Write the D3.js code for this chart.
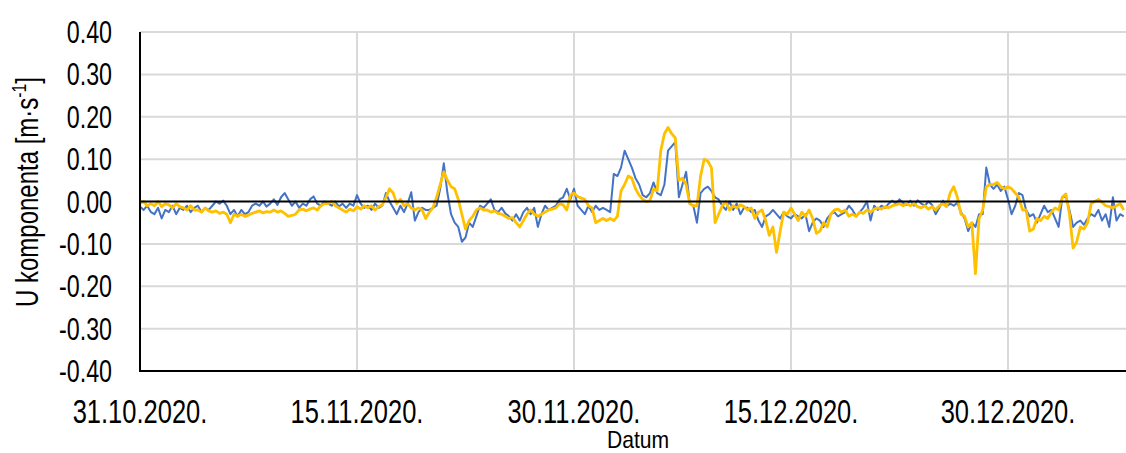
<!DOCTYPE html>
<html>
<head>
<meta charset="utf-8">
<script src="https://cdn.jsdelivr.net/npm/d3@7"></script>
<style>
  html, body { margin: 0; padding: 0; background: #fff; }
  svg { display: block; font-family: "Liberation Sans", Arial, sans-serif; }
</style>
</head>
<body>
<div id="chart"></div>
<script>
// U component of current velocity, two series, 6-hourly samples from 31.10.2020.
const START = new Date(2020, 9, 31);
const STEP_HOURS = 6;

const Y_TICKS = [0.4, 0.3, 0.2, 0.1, 0, -0.1, -0.2, -0.3, -0.4];
const X_TICKS = ["2020-10-31", "2020-11-15", "2020-11-30", "2020-12-15", "2020-12-30"];

// blue series (4 values per day)
const BLUE = [
  -0.012,-0.02,-0.01,-0.025,   -0.03,-0.015,-0.04,-0.02,    -0.025,-0.01,-0.03,-0.015,   -0.02,-0.01,-0.025,-0.015,
  -0.01,-0.025,-0.015,-0.02,   -0.01,0,-0.005,0.002,        -0.01,-0.03,-0.02,-0.035,    -0.02,-0.03,-0.025,-0.01,
  -0.005,-0.01,0,-0.012,       -0.005,0.005,-0.008,0.01,    0.02,0.005,-0.01,0,          -0.015,-0.005,-0.01,0.005,
  0.012,-0.005,-0.01,0,        -0.005,-0.01,0,-0.012,       -0.005,-0.015,-0.005,-0.01,  0.015,-0.005,-0.015,-0.01,
  -0.02,-0.005,-0.015,-0.01,   0.02,0,-0.015,-0.03,         -0.01,-0.025,-0.005,0.022,   -0.045,-0.025,-0.015,-0.02,
  -0.02,-0.015,-0.01,0.03,     0.09,0.02,-0.03,-0.05,       -0.06,-0.095,-0.085,-0.05,   -0.06,-0.035,-0.01,-0.015,
  -0.005,0.005,-0.02,-0.025,   -0.015,-0.028,-0.035,-0.045, -0.03,-0.045,-0.025,-0.015,  -0.03,-0.015,-0.06,-0.03,
  -0.01,-0.02,-0.015,-0.01,    0.005,0.01,0.03,0.005,       0.03,-0.01,-0.02,-0.03,      -0.01,-0.025,-0.01,-0.02,
  -0.015,-0.02,-0.025,0.065,   0.06,0.08,0.12,0.1,          0.08,0.055,0.04,0.015,       0.01,0.02,0.045,0.02,
  0.015,0.04,0.12,0.13,        0.14,0.01,0.04,0.07,         -0.005,-0.01,-0.05,0.02,     0.03,0.035,0.025,0.01,
  0.005,-0.01,-0.02,0,         -0.02,-0.005,-0.03,-0.015,   -0.015,-0.025,-0.02,-0.045,  -0.06,-0.035,-0.03,-0.02,
  -0.03,-0.04,-0.025,-0.035,   -0.04,-0.03,-0.035,-0.04,    -0.03,-0.07,-0.05,-0.04,     -0.045,-0.06,-0.04,-0.03,
  -0.025,-0.035,-0.03,-0.025,  -0.01,-0.02,-0.035,-0.025,   -0.015,0,-0.045,-0.01,       -0.02,-0.01,-0.015,-0.005,
  0.002,-0.005,0.005,-0.003,   -0.008,0.002,-0.01,0.003,    -0.005,-0.01,0,-0.008,       -0.03,-0.015,0.002,-0.012,
  -0.005,-0.01,-0.003,-0.025,  -0.04,-0.07,-0.05,-0.06,     -0.03,-0.03,0.08,0.04,       0.03,0.04,0.025,0.035,
  0.005,-0.03,-0.01,0.02,      0.015,-0.02,-0.035,-0.03,    -0.05,-0.03,-0.01,-0.025,    -0.02,-0.04,-0.06,0.01,
  0.012,-0.02,-0.06,-0.05,     -0.045,-0.055,-0.04,-0.03,   -0.035,-0.02,-0.045,-0.03,   -0.06,0.01,-0.045,-0.03,
  -0.035
];

// yellow series (4 values per day)
const YELLOW = [
  -0.005,0,-0.01,-0.005,       -0.01,0,-0.012,-0.005,       -0.008,-0.015,-0.005,-0.012, -0.015,-0.02,-0.01,-0.02,
  -0.02,-0.025,-0.015,-0.022,  -0.025,-0.022,-0.028,-0.025, -0.03,-0.05,-0.03,-0.035,    -0.03,-0.035,-0.032,-0.028,
  -0.025,-0.022,-0.027,-0.024, -0.025,-0.02,-0.025,-0.022,  -0.028,-0.035,-0.033,-0.03,  -0.02,-0.018,-0.022,-0.018,
  -0.015,-0.02,-0.01,-0.005,   -0.005,0,-0.01,-0.015,       -0.02,-0.025,-0.018,-0.022,  -0.012,-0.018,-0.01,-0.015,
  -0.01,-0.02,-0.012,-0.008,   0.01,0.03,0.02,-0.005,       0.005,-0.01,-0.005,-0.015,   -0.02,-0.015,-0.02,-0.04,
  -0.025,-0.015,0.01,0.04,     0.07,0.05,0.035,0.03,        0.005,-0.03,-0.065,-0.045,   -0.035,-0.02,-0.015,-0.02,
  -0.02,-0.025,-0.022,-0.028,  -0.03,-0.035,-0.04,-0.038,   -0.05,-0.06,-0.045,-0.03,    -0.02,-0.03,-0.035,-0.03,
  -0.025,-0.02,-0.018,-0.015,  -0.005,-0.008,-0.02,0.015,   0.02,0.012,0.008,0.005,      -0.01,-0.015,-0.05,-0.045,
  -0.04,-0.045,-0.04,-0.045,   -0.035,0.025,0.04,0.06,      0.055,0.03,0.015,0.005,      0,0.002,0.03,0.025,
  0.12,0.16,0.175,0.16,        0.15,0.05,0.055,0.04,        -0.005,-0.01,-0.01,0.06,     0.1,0.095,0.08,-0.05,
  -0.03,-0.01,0,-0.02,         -0.01,-0.015,-0.008,-0.012,  -0.02,-0.015,-0.04,-0.025,   -0.02,-0.045,-0.08,-0.06,
  -0.12,-0.07,-0.025,-0.03,    -0.015,-0.03,-0.045,-0.025,  -0.035,-0.02,-0.04,-0.075,   -0.07,-0.05,-0.06,-0.03,
  -0.02,-0.018,-0.025,-0.02,   -0.035,-0.03,-0.035,-0.025,  -0.028,-0.02,-0.025,-0.018,  -0.015,-0.018,-0.012,-0.015,
  -0.01,-0.008,-0.005,-0.01,   -0.005,-0.01,-0.005,-0.012,  -0.015,-0.01,-0.018,-0.012,  -0.02,-0.01,-0.005,-0.012,
  0.02,0.035,0.01,-0.03,       -0.035,-0.06,-0.05,-0.17,    -0.04,-0.02,0.035,0.04,      0.04,0.045,0.035,0.03,
  0.035,0.03,0.02,0.01,        -0.02,-0.02,-0.07,-0.065,    -0.04,-0.045,-0.035,-0.04,   -0.025,-0.015,-0.02,0.01,
  0.018,-0.03,-0.11,-0.095,    -0.06,-0.065,-0.05,-0.005,   0,0.005,-0.002,-0.01,        -0.012,-0.015,-0.01,-0.005,
  -0.02
];

const W = 1126, H = 453;
const plot = { left: 140, right: 1126, top: 32, bottom: 371 };

const svg = d3.select("#chart").append("svg")
  .attr("width", W)
  .attr("height", H);

const parse = d3.timeParse("%Y-%m-%d");
const x = d3.scaleTime()
  .domain([START, parse("2020-12-30")])
  .range([plot.left, 1008]);

const y = d3.scaleLinear()
  .domain([-0.4, 0.4])
  .range([plot.bottom, plot.top]);

const timeOf = i => new Date(START.getTime() + i * STEP_HOURS * 3600 * 1000);
const blue   = BLUE.map((v, i) => ({ t: timeOf(i), v }));
const yellow = YELLOW.map((v, i) => ({ t: timeOf(i), v }));

// ── Gridlines ─────────────────────────────────────────────────────────────
svg.append("g")
  .selectAll("line")
  .data(Y_TICKS.filter(d => d !== 0 && d !== -0.4))
  .join("line")
    .attr("x1", plot.left).attr("x2", plot.right)
    .attr("y1", d => y(d)).attr("y2", d => y(d))
    .attr("stroke", "#d9d9d9").attr("stroke-width", 2);

svg.append("g")
  .selectAll("line")
  .data(X_TICKS.slice(1).map(parse))
  .join("line")
    .attr("x1", d => x(d)).attr("x2", d => x(d))
    .attr("y1", plot.top).attr("y2", plot.bottom)
    .attr("stroke", "#d9d9d9").attr("stroke-width", 2);

// ── Series ────────────────────────────────────────────────────────────────
const line = d3.line().x(d => x(d.t)).y(d => y(d.v));

svg.append("path")
  .datum(blue)
  .attr("fill", "none")
  .attr("stroke", "#4472c4")
  .attr("stroke-width", 2)
  .attr("stroke-linejoin", "round")
  .attr("d", line);

svg.append("path")
  .datum(yellow)
  .attr("fill", "none")
  .attr("stroke", "#ffc000")
  .attr("stroke-width", 2.8)
  .attr("stroke-linejoin", "round")
  .attr("d", line);

// zero line and axes
svg.append("line")
  .attr("x1", plot.left).attr("x2", plot.right)
  .attr("y1", y(0)).attr("y2", y(0))
  .attr("stroke", "#000").attr("stroke-width", 2);

svg.append("line")
  .attr("x1", plot.left).attr("x2", plot.right)
  .attr("y1", plot.bottom).attr("y2", plot.bottom)
  .attr("stroke", "#000").attr("stroke-width", 2);

svg.append("line")
  .attr("x1", plot.left).attr("x2", plot.left)
  .attr("y1", plot.top).attr("y2", plot.bottom + 1)
  .attr("stroke", "#000").attr("stroke-width", 2);

// ── Labels (glyphs are condensed in the original) ─────────────────────────
const SX = 0.75;
const fmtY = d => d3.format(".2f")(d).replace("\u2212", "-");

svg.append("g")
  .selectAll("text")
  .data(Y_TICKS)
  .join("text")
    .attr("transform", d => `translate(112,${y(d) + 11}) scale(${SX},1)`)
    .attr("text-anchor", "end")
    .style("font-size", "31px")
    .text(fmtY);

svg.append("g")
  .selectAll("text")
  .data(X_TICKS)
  .join("text")
    .attr("transform", d => `translate(${x(parse(d))},423) scale(${SX},1)`)
    .attr("text-anchor", "middle")
    .style("font-size", "34px")
    .text(d => d3.timeFormat("%d.%m.%Y.")(parse(d)));

svg.append("text")
  .attr("transform", `translate(638,448) scale(0.88,1)`)
  .attr("text-anchor", "middle")
  .style("font-size", "24px")
  .text("Datum");

const yTitle = svg.append("text")
  .attr("transform", `translate(38,192) rotate(-90) scale(${SX},1)`)
  .attr("text-anchor", "middle")
  .style("font-size", "32px");
yTitle.append("tspan").text("U komponenta [m·s");
yTitle.append("tspan").attr("dy", -12).style("font-size", "21px").text("-1");
yTitle.append("tspan").attr("dy", 12).text("]");
</script>
</body>
</html>
